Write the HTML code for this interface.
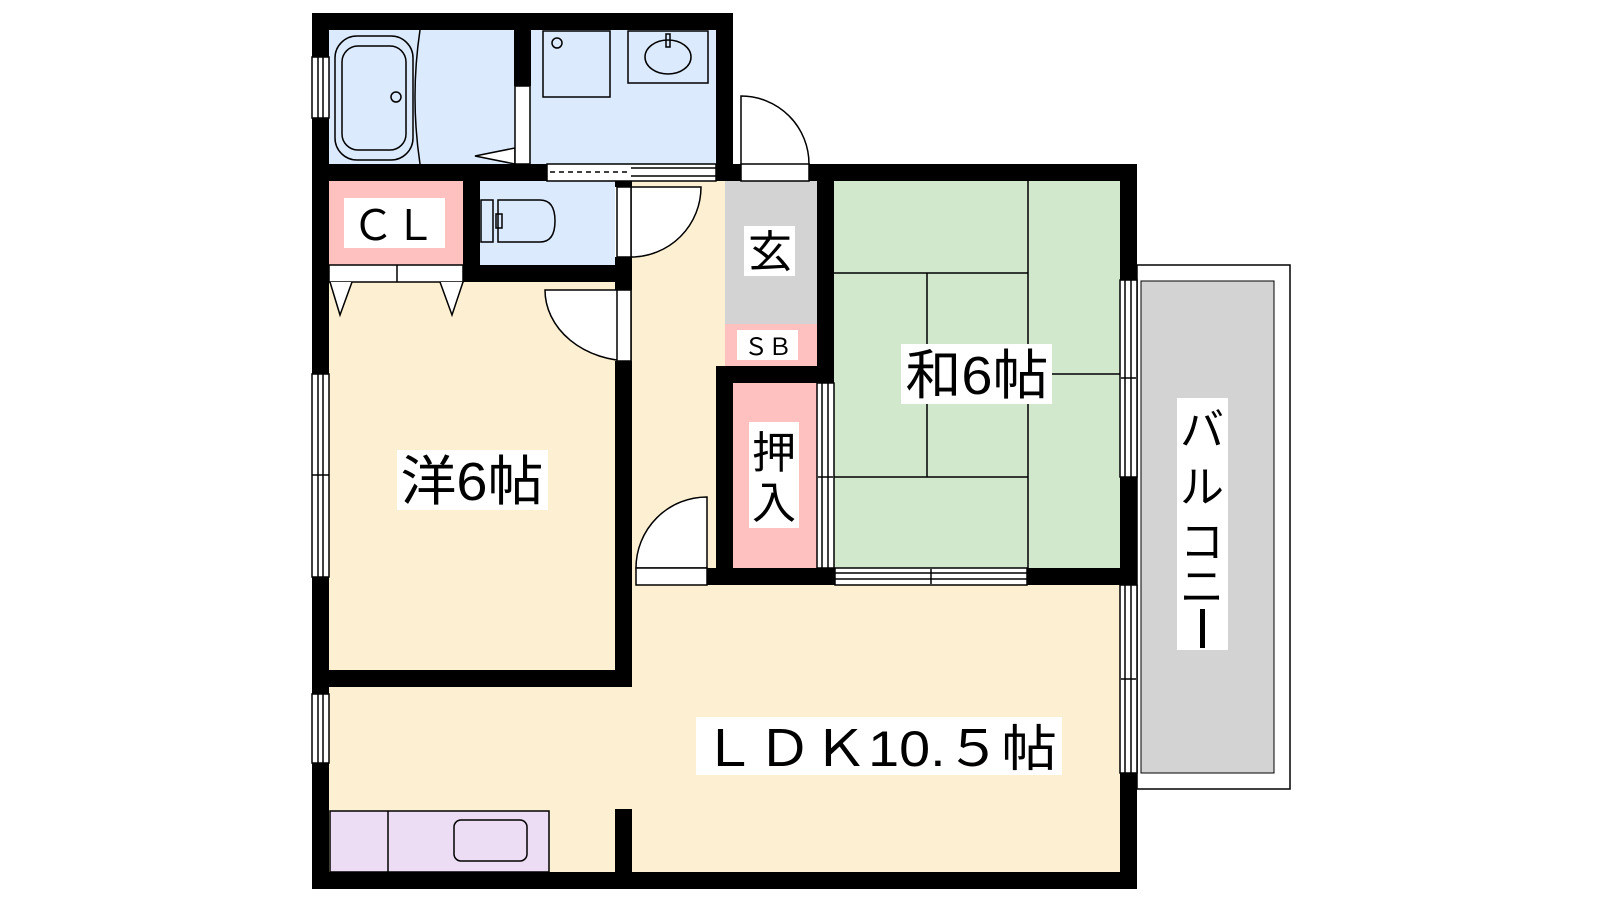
<!DOCTYPE html>
<html><head><meta charset="utf-8"><style>html,body{margin:0;padding:0;background:#fff}svg{display:block}text{font-family:"Liberation Sans","Noto Sans CJK JP",sans-serif}</style></head><body>
<svg width="1600" height="900" viewBox="0 0 1600 900" xmlns="http://www.w3.org/2000/svg">
<!-- floors -->
<rect x="329" y="30" width="387" height="134" fill="#dbeafd"/>
<rect x="329" y="181" width="134" height="84" fill="#ffc0c0"/>
<rect x="480" y="181" width="135" height="84" fill="#dbeafd"/>
<rect x="329" y="282" width="303" height="388" fill="#fdf0d2"/>
<rect x="632" y="181" width="93" height="404" fill="#fdf0d2"/>
<rect x="329" y="585" width="791" height="287" fill="#fdf0d2"/>
<rect x="725" y="181" width="92" height="143" fill="#d3d3d3"/>
<rect x="725" y="324" width="92" height="42" fill="#ffc0c0"/>
<rect x="733" y="383" width="84" height="185" fill="#ffc0c0"/>
<rect x="834" y="181" width="286" height="387" fill="#d2e8cc"/>
<!-- balcony -->
<rect x="1137" y="265" width="153" height="524" fill="#fff" stroke="#000" stroke-width="1.5"/>
<rect x="1141" y="281" width="133" height="492" fill="#d3d3d3" stroke="#000" stroke-width="1"/>
<!-- tatami -->
<g stroke="#000" stroke-width="1.5">
<line x1="1028" y1="181" x2="1028" y2="568"/>
<line x1="834" y1="273" x2="1028" y2="273"/>
<line x1="927" y1="273" x2="927" y2="477"/>
<line x1="834" y1="477" x2="1028" y2="477"/>
<line x1="1028" y1="374" x2="1120" y2="374"/>
</g>
<!-- bath fixtures -->
<g fill="none" stroke="#000" stroke-width="1.5">
<rect x="335" y="36" width="78" height="124" rx="22"/>
<rect x="342" y="46" width="64" height="104" rx="16"/>
<circle cx="396" cy="97" r="5"/>
<path d="M420 30 Q410 97 420 164"/>
<path d="M515 148 L475 156 L515 164 Z" fill="#fff"/>
<rect x="515" y="86" width="15" height="78" fill="#fff"/>
<rect x="543" y="31" width="67" height="66"/>
<circle cx="557" cy="43" r="5"/>
<rect x="628" y="31" width="80" height="52"/>
<ellipse cx="668" cy="57" rx="23" ry="17"/>
<rect x="666" y="34" width="4" height="13"/>
<!-- toilet -->
<rect x="481" y="200" width="12" height="42"/>
<path d="M498 200 H540 Q555 200 555 221 Q555 242 540 242 H498 Z"/>
<rect x="496" y="214" width="6" height="14"/>
<!-- kitchen -->
<rect x="330" y="811" width="219" height="61" fill="#ecdcf4"/>
<line x1="388" y1="811" x2="388" y2="872"/>
<rect x="454" y="820" width="73" height="41" rx="7"/>
<!-- closet doors -->
<rect x="329" y="265" width="134" height="17" fill="#fff"/>
<line x1="397" y1="265" x2="397" y2="282"/>
<path d="M330 282 L340 315 L352 282" fill="#fff"/>
<path d="M440 282 L452 315 L463 282" fill="#fff"/>
<!-- doors -->
<path d="M741 164 V96 A68 68 0 0 1 809 164" fill="#fff"/>
<rect x="741" y="164" width="68" height="17" fill="#fff"/>
<path d="M631 187 H701 A70 70 0 0 1 631 257 Z" fill="#fff"/>
<rect x="617" y="187" width="14" height="70" fill="#fff"/>
<path d="M545 290 H631 V361 A86 71 0 0 1 545 290 Z" fill="#fff"/>
<rect x="617" y="290" width="14" height="71" fill="#fff"/>
<path d="M707 568 V497 A71 71 0 0 0 636 568 Z" fill="#fff"/>
<rect x="636" y="568" width="71" height="17" fill="#fff"/>
<!-- sliding bath door -->
<rect x="547" y="164" width="169" height="17" fill="#fff"/>
<line x1="550" y1="172" x2="630" y2="172" stroke-dasharray="5 4"/>
<line x1="631" y1="168" x2="716" y2="168"/>
<line x1="631" y1="176" x2="716" y2="176"/>
<!-- windows -->
<rect x="312" y="57" width="17" height="61" fill="#fff"/>
<line x1="318" y1="57" x2="318" y2="118"/><line x1="323" y1="57" x2="323" y2="118"/>
<rect x="312" y="374" width="17" height="203" fill="#fff"/>
<line x1="318" y1="374" x2="318" y2="577"/><line x1="323" y1="374" x2="323" y2="577"/>
<line x1="312" y1="475" x2="329" y2="475"/>
<rect x="312" y="694" width="17" height="69" fill="#fff"/>
<line x1="318" y1="694" x2="318" y2="763"/><line x1="323" y1="694" x2="323" y2="763"/>
<rect x="817" y="383" width="17" height="185" fill="#fff"/>
<line x1="822" y1="383" x2="822" y2="568"/><line x1="828" y1="383" x2="828" y2="568"/>
<line x1="818" y1="477" x2="833" y2="477"/>
<rect x="1120" y="280" width="17" height="197" fill="#fff"/>
<line x1="1125" y1="280" x2="1125" y2="477"/><line x1="1131" y1="280" x2="1131" y2="477"/>
<line x1="1121" y1="378" x2="1136" y2="378"/>
<rect x="1120" y="585" width="17" height="188" fill="#fff"/>
<line x1="1125" y1="585" x2="1125" y2="773"/><line x1="1131" y1="585" x2="1131" y2="773"/>
<line x1="1121" y1="679" x2="1136" y2="679"/>
<rect x="835" y="568" width="192" height="17" fill="#fff"/>
<line x1="835" y1="573" x2="1027" y2="573"/><line x1="835" y1="579" x2="1027" y2="579"/>
<line x1="931" y1="569" x2="931" y2="584"/>
</g>
<!-- walls -->
<g fill="#000">
<rect x="312" y="13" width="421" height="17"/>
<rect x="312" y="13" width="17" height="44"/>
<rect x="312" y="118" width="17" height="256"/>
<rect x="312" y="577" width="17" height="117"/>
<rect x="312" y="763" width="17" height="126"/>
<rect x="514" y="30" width="17" height="56"/>
<rect x="716" y="13" width="17" height="168"/>
<rect x="312" y="164" width="235" height="17"/>
<rect x="716" y="164" width="25" height="17"/>
<rect x="809" y="164" width="328" height="17"/>
<rect x="817" y="164" width="17" height="219"/>
<rect x="1120" y="164" width="17" height="116"/>
<rect x="1120" y="477" width="17" height="108"/>
<rect x="1120" y="773" width="17" height="116"/>
<rect x="463" y="181" width="17" height="101"/>
<rect x="463" y="265" width="169" height="17"/>
<rect x="615" y="181" width="17" height="6"/>
<rect x="615" y="257" width="17" height="33"/>
<rect x="615" y="361" width="17" height="326"/>
<rect x="312" y="670" width="320" height="17"/>
<rect x="716" y="366" width="117" height="17"/>
<rect x="716" y="366" width="17" height="219"/>
<rect x="707" y="568" width="128" height="17"/>
<rect x="1027" y="568" width="110" height="17"/>
<rect x="615" y="809" width="17" height="63"/>
<rect x="312" y="872" width="825" height="17"/>
</g>
<!-- labels -->
<g fill="#fff">
<rect x="344" y="198" width="101" height="50"/>
<rect x="744" y="226" width="51" height="50"/>
<rect x="737" y="330" width="61" height="30"/>
<rect x="749" y="422" width="50" height="106"/>
<rect x="397" y="450" width="151" height="60"/>
<rect x="901" y="344" width="151" height="60"/>
<rect x="696" y="717" width="366" height="58"/>
<rect x="1177" y="398" width="51" height="252"/>
</g>
<g fill="#000">
<text x="394" y="240" font-size="42" text-anchor="middle">ＣＬ</text>
<text x="770" y="267" font-size="44" text-anchor="middle">玄</text>
<text x="768" y="355" font-size="24" text-anchor="middle">ＳＢ</text>
<text x="774" y="468" font-size="44" text-anchor="middle">押</text>
<text x="774" y="518" font-size="44" text-anchor="middle">入</text>
<text x="472" y="500" font-size="54" text-anchor="middle" textLength="143" lengthAdjust="spacingAndGlyphs">洋6帖</text>
<text x="977" y="394" font-size="54" text-anchor="middle" textLength="143" lengthAdjust="spacingAndGlyphs">和6帖</text>
<text x="879" y="766" font-size="50" text-anchor="middle" textLength="356" lengthAdjust="spacingAndGlyphs">ＬＤＫ10.５帖</text>
<text x="1202" y="445" font-size="44" text-anchor="middle">バ</text>
<text x="1202" y="502" font-size="44" text-anchor="middle">ル</text>
<text x="1202" y="557" font-size="44" text-anchor="middle">コ</text>
<text x="1202" y="602" font-size="44" text-anchor="middle">ニ</text>
</g>
<rect x="1200" y="609" width="5" height="39" fill="#000"/>
</svg>
</body></html>
